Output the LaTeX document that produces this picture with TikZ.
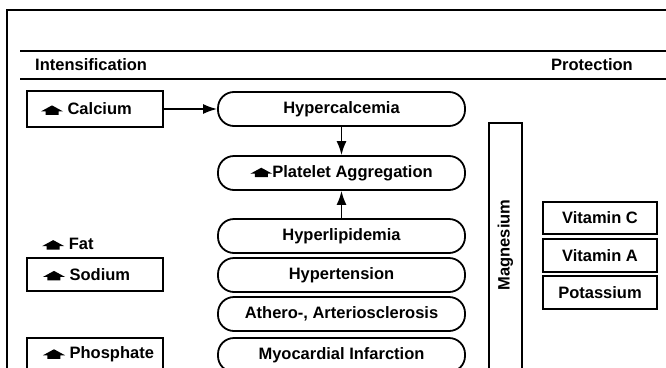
\documentclass[tikz,border=0pt]{standalone}
\usepackage{fontspec}
\setmainfont{Liberation Sans}
\usetikzlibrary{arrows.meta}
\newcommand\upmark{\tikz[x=1pt,y=1pt,baseline=0pt,sharp corners]\fill[black,draw=none] (-6.5,0) -- (-6.5,3.5) -- (-11,3.5) -- (0,9.5) -- (11,3.5) -- (6.5,3.5) -- (6.5,0) -- cycle;}
\tikzset{
  stad/.style={draw, line width=1.8pt, rounded corners=16pt, minimum width=247pt, minimum height=34pt, inner sep=0pt},
  sbox/.style={draw, line width=1.8pt, minimum width=136pt, minimum height=34pt, inner sep=0pt},
  pbox/.style={draw, line width=1.8pt, minimum width=114pt, minimum height=33pt, inner sep=0pt, align=center},
  flow/.style={line width=1.6pt, -{Latex[length=14pt,width=10pt]}},
  rule/.style={line width=2pt},
}
\begin{document}
\begin{tikzpicture}[x=1pt, y=-1pt, font=\bfseries\fontsize{16.5}{19}\selectfont]
\useasboundingbox (0,0) rectangle (666,367);
\clip (0,0) rectangle (666,367);
% frame and header rules
\draw[line width=1.4pt] (7,380) -- (7,10) -- (680,10);
\draw[rule] (20,51) -- (680,51);
\draw[rule] (20,79) -- (680,79);
\node[anchor=west, inner sep=0pt] (int) at (35,65) {Intensification};
\node[anchor=west, inner sep=0pt] (pro) at (551,65) {Protection};
% left column
\node[sbox, minimum height=36pt] (ca) at (95,109) {\makebox[136pt][l]{\hspace*{14pt}\upmark\ Calcium}};
\node[anchor=west, inner sep=0pt] (fat) at (31,244) {\hspace*{11pt}\upmark\ Fat};
\node[sbox, minimum height=33pt] (na) at (95,274.5) {\makebox[136pt][l]{\hspace*{16pt}\upmark\ Sodium}};
\node[sbox, minimum height=33pt] (ph) at (95,354.5) {\makebox[136pt][l]{\hspace*{16pt}\upmark\ Phosphate}};
% central column
\node[stad] (hc) at (341.5,109) {Hypercalcemia};
\node[stad] (pa) at (341.5,173) {\upmark Platelet Aggregation};
\node[stad] (hl) at (341.5,236) {Hyperlipidemia};
\node[stad] (ht) at (341.5,275) {Hypertension};
\node[stad] (as) at (341.5,314) {Athero-, Arteriosclerosis};
\node[stad] (mi) at (341.5,355) {Myocardial Infarction};
% magnesium
\draw[line width=1.8pt] (489,380) -- (489,123) -- (522,123) -- (522,380);
\node[rotate=90, inner sep=0pt] (mg) at (505.5,245) {Magnesium};
% right column
\node[pbox, minimum height=32pt] (vc) at (600,218) {Vitamin C};
\node[pbox] (va) at (600,255.5) {Vitamin A};
\node[pbox] (k) at (600,292.5) {Potassium};
% connectors
\draw[flow] (ca.east) -- (hc.west);
\draw[flow] (hc.south) -- (pa.north);
\draw[flow] (hl.north) -- (pa.south);
\end{tikzpicture}
\end{document}
